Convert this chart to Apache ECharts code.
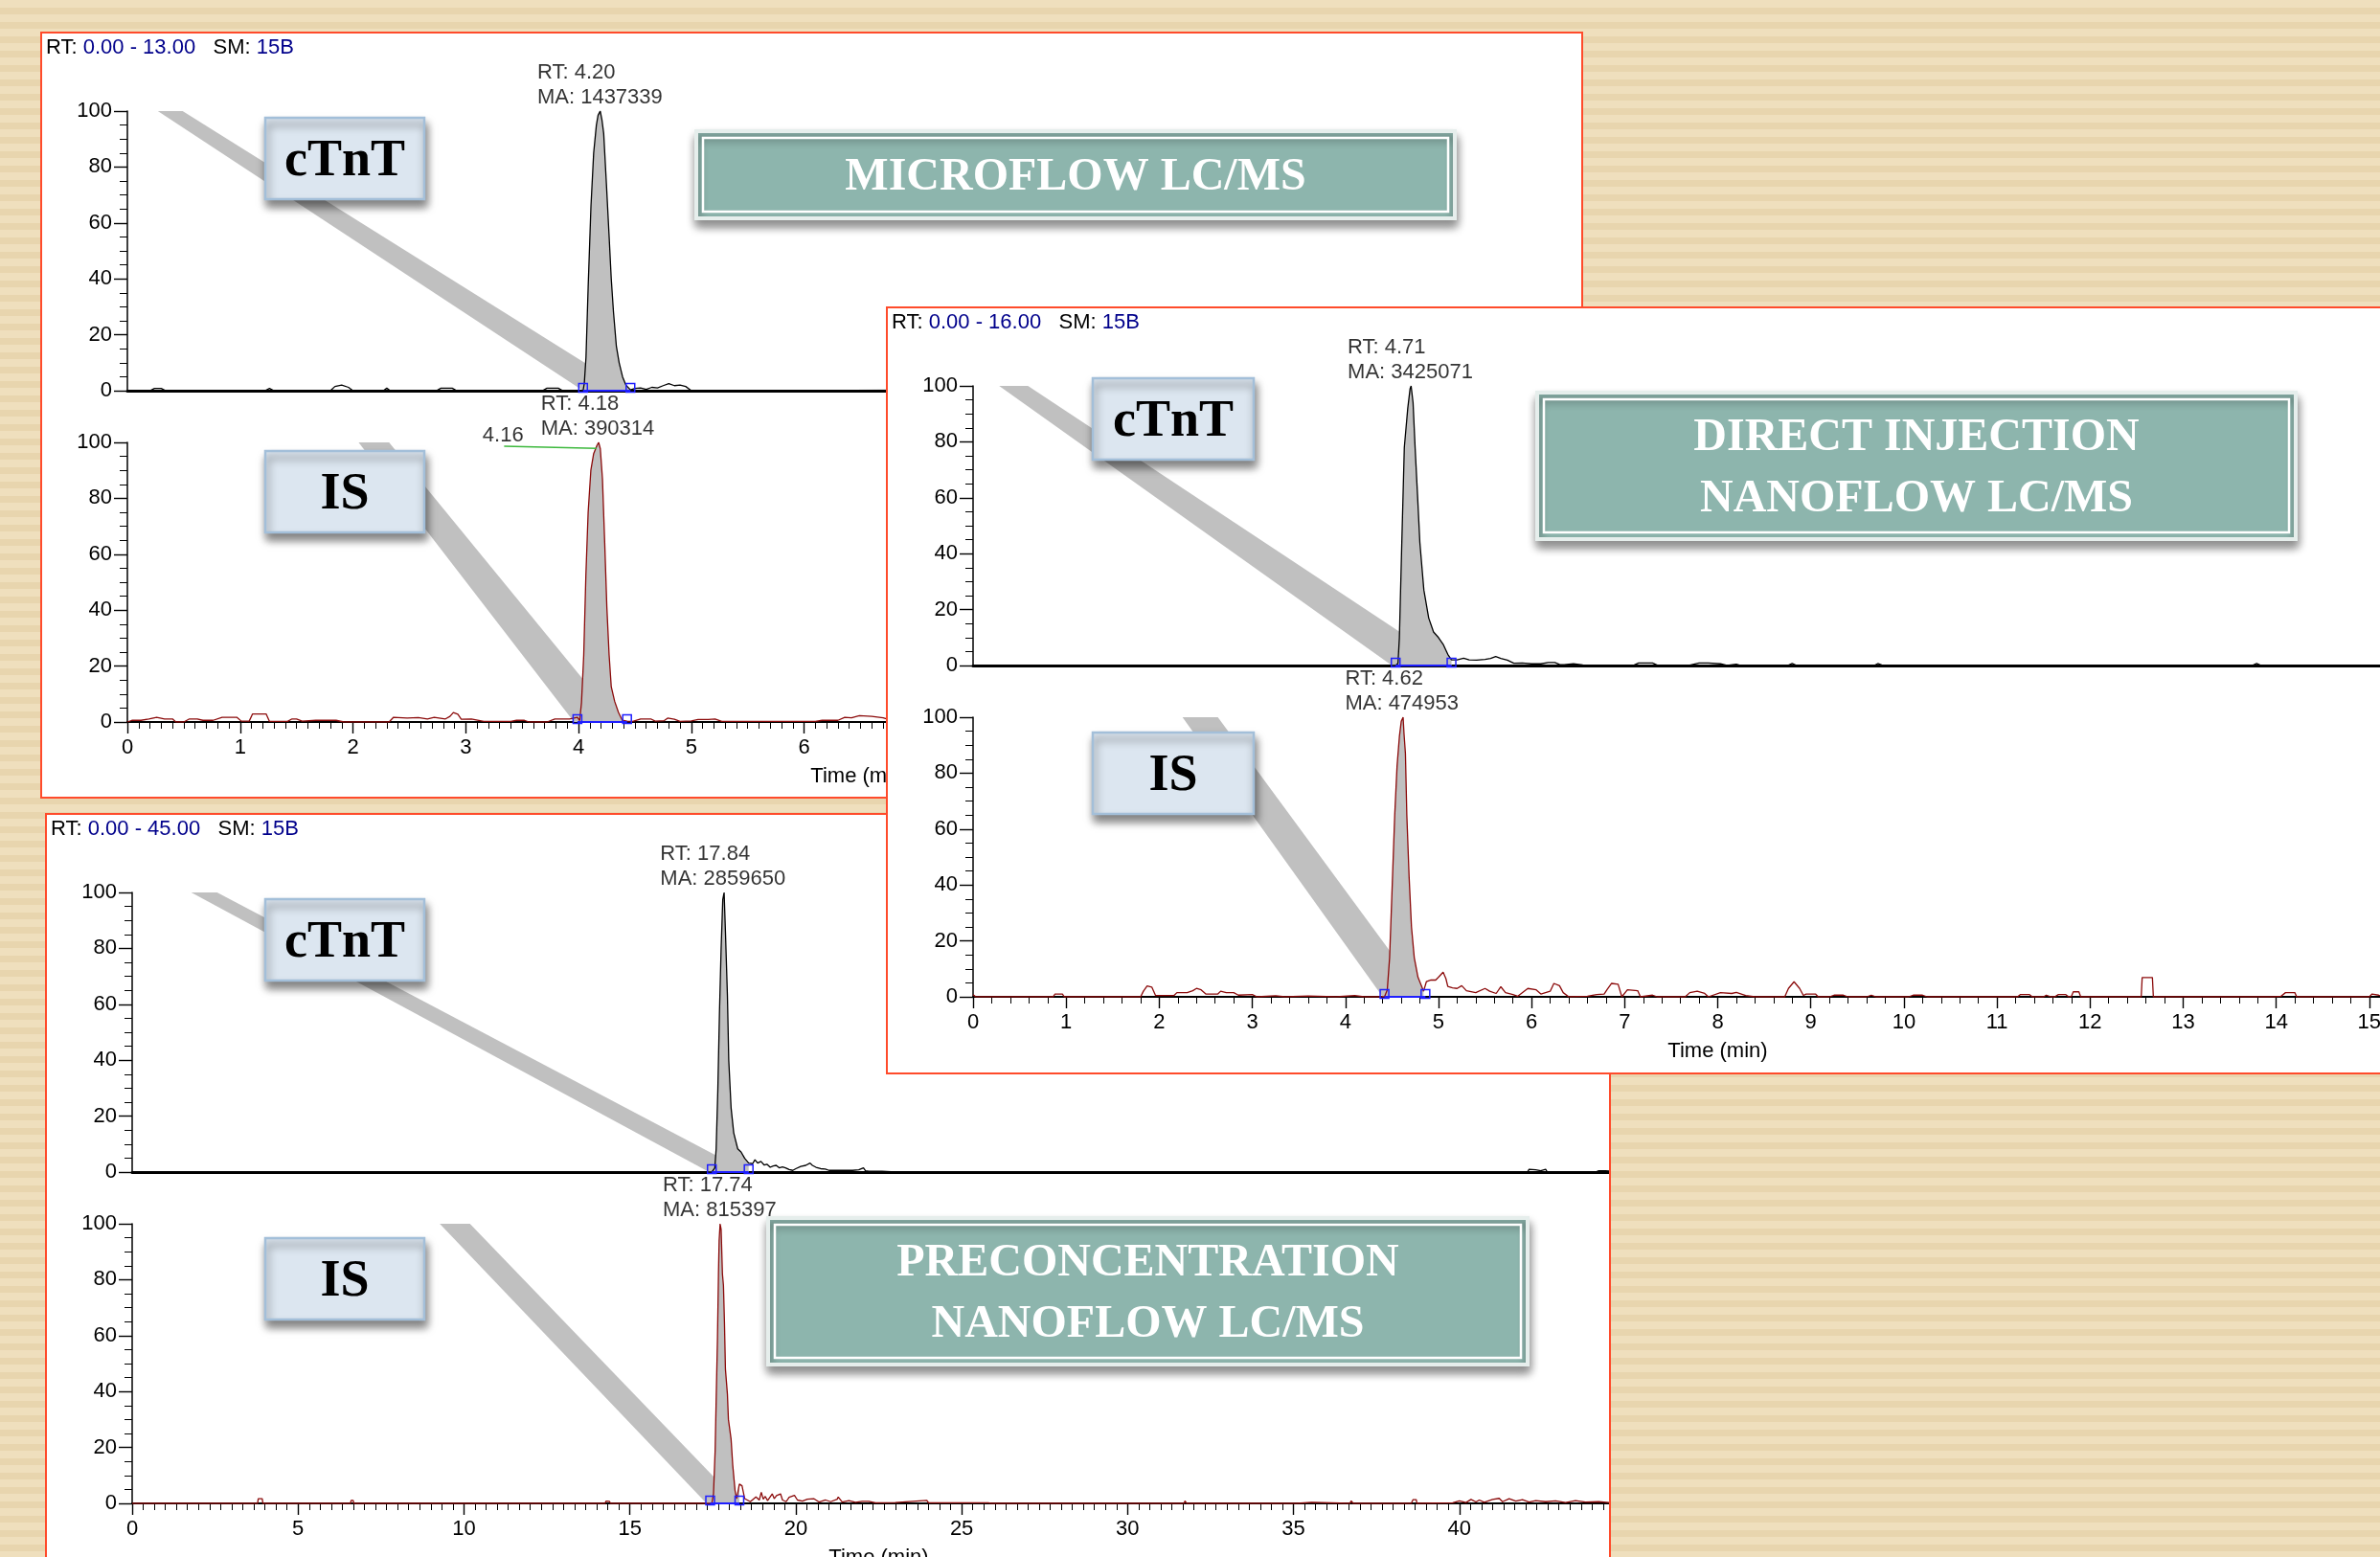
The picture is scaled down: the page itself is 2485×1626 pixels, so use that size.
<!DOCTYPE html>
<html><head><meta charset="utf-8">
<script src="https://cdn.jsdelivr.net/npm/echarts/dist/echarts.min.js"></script>
<style>
html,body{margin:0;padding:0;width:2485px;height:1626px;overflow:hidden;
 background:repeating-linear-gradient(to bottom,#efdfbd 0px,#efdfbd 8px,#e8d5ae 8px,#e8d5ae 15px);}
.panel{position:absolute;box-sizing:border-box;border:2px solid #ff4b2b;background:#fff;overflow:hidden;}
.panel>div{position:absolute;left:0;top:0;}
</style></head><body>
<div class="panel" style="left:42px;top:33px;width:1611px;height:801px;"><div id="cA" style="width:1607px;height:797px;"></div></div>
<div class="panel" style="left:47px;top:849px;width:1635px;height:820px;"><div id="cC" style="width:1631px;height:816px;"></div></div>
<div class="panel" style="left:925px;top:320px;width:1700px;height:802px;"><div id="cB" style="width:1696px;height:798px;"></div></div>
<script>
// ---------------- DATA ----------------
// [time (min), relative abundance (%)]
const microCtnt = [[0,0],[0.2,0],[0.24,0.8],[0.3,0.8],[0.34,0],[1.22,0],[1.26,0.8],[1.3,0],[1.8,0],[1.84,1.5],[1.9,2],[1.96,1.2],[2.0,0],
 [2.27,0],[2.3,0.9],[2.33,0],[2.74,0],[2.78,0.9],[2.88,0.9],[2.92,0],[3.68,0],[3.72,0.9],[3.82,0.9],[3.86,0],
 [4.04,0],[4.051,2.6],[4.066,12],[4.085,37],[4.11,66],[4.134,85],[4.158,95],[4.173,98.5],[4.192,100],[4.207,97],[4.223,92],[4.247,74],[4.27,56],[4.29,40],[4.31,28],[4.335,16],[4.36,10],[4.39,5],[4.42,2],[4.46,0.3],
 [4.5,0.8],[4.55,1],[4.6,0.5],[4.65,1.2],[4.7,1],[4.75,1.8],[4.8,2.5],[4.85,1.8],[4.9,2],[4.95,1.5],[5.0,0],[5.6,0],[8,0.3],[10,0],[13,0]];
const microIs = [[0,0],[0.04,0.6],[0.12,0.6],[0.19,1.1],[0.26,1.7],[0.33,1.1],[0.4,1.1],[0.43,0],[0.5,0],[0.55,1.1],[0.62,1.1],[0.67,0.6],[0.76,0.6],[0.84,1.7],[0.97,1.7],[1.01,0.3],[1.08,0.3],[1.11,2.9],[1.23,2.9],[1.26,0.2],[1.42,0.2],[1.46,1.1],[1.5,1.1],[1.55,0.3],[1.67,0.6],[1.85,0.6],[1.92,0],
 [2.32,0],[2.36,1.7],[2.48,1.4],[2.58,1.6],[2.66,1.1],[2.72,1.7],[2.82,1.1],[2.86,2],[2.89,3.4],[2.93,2.8],[2.96,1.0],[3.05,1.1],[3.16,0.2],[3.4,0.2],[3.45,0.6],[3.52,0.6],[3.56,0],[3.72,0],[3.79,1.1],[3.86,1.1],[3.92,1.1],[3.99,1.7],
 [4.01,0.5],[4.026,6.9],[4.046,24],[4.065,52.6],[4.085,75],[4.109,90],[4.134,96],[4.163,98.9],[4.178,100],[4.193,97.7],[4.212,86.9],[4.232,64],[4.251,41],[4.271,24],[4.29,12.6],[4.32,7.4],[4.354,3.4],[4.388,0.6],[4.43,0.3],
 [4.48,0.2],[4.55,1.1],[4.64,1.1],[4.68,0.3],[4.76,0.5],[4.79,1.4],[4.85,1.0],[4.9,0.2],[5.0,0.4],[5.06,0.9],[5.15,0.9],[5.21,1.1],[5.27,0.2],[6.1,0.2],[6.16,0.6],[6.3,0.6],[6.36,1.7],[6.42,1.5],[6.49,2.3],[6.6,2],[6.7,1.5],[6.8,0.3],[7.2,0.5],[7.8,1],[8.3,0.3],[9,0.8],[10,0.4],[11,0.9],[12,0.3],[13,0.5]];
const directCtnt = [[0,0],[4.54,0],[4.565,0.8],[4.58,9.9],[4.606,44],[4.633,78],[4.67,92],[4.695,99],[4.706,100],[4.727,94],[4.749,78],[4.775,61],[4.80,44],[4.843,27],[4.895,17],[4.947,12],[5.0,10],[5.05,7.6],[5.10,4],[5.14,2],
 [5.16,2.3],[5.2,2],[5.27,2.6],[5.33,2],[5.41,1.9],[5.5,2.2],[5.56,2.5],[5.615,3.2],[5.67,2.5],[5.74,1.9],[5.81,0.8],[5.9,0.9],[6.0,0.6],[6.1,0.6],[6.18,1.1],[6.25,1.1],[6.3,0.4],[6.35,0.3],[6.45,0.6],[6.55,0.2],[6.64,0.1],
 [7.1,0.1],[7.15,0.9],[7.3,0.9],[7.35,0.1],[7.7,0.1],[7.8,0.9],[7.9,0.9],[8.03,0.6],[8.1,0],[8.2,0.5],[8.25,0],[8.75,0],[8.8,0.7],[8.85,0],[9.68,0],[9.72,0.7],[9.78,0],[13.74,0],[13.79,0.7],[13.84,0],[16,0]];
const directIs = [[0,0.8],[0.03,0],[0.36,0],[0.38,0.5],[0.42,0],[0.86,0],[0.88,1],[0.96,1],[0.98,0],[1.8,0],[1.83,2],[1.87,3.9],[1.92,3.5],[1.96,0.5],[2.16,0.5],[2.19,1.5],[2.3,1.5],[2.36,2.2],[2.4,3],[2.45,2.5],[2.5,1],[2.63,1],[2.66,2],[2.72,1.5],[2.8,1.5],[2.85,0.6],[3.0,0.8],[3.05,0],[3.25,0.4],[3.35,0],[3.6,0.3],[3.9,0],[4.1,0.5],[4.2,0],[4.42,0],
 [4.45,2.5],[4.475,14],[4.50,37],[4.53,65],[4.555,82.5],[4.58,93],[4.60,98.5],[4.62,100],[4.63,94],[4.645,87],[4.66,65],[4.685,42.5],[4.71,25],[4.74,14],[4.78,7],[4.82,3.7],[4.84,2],
 [4.87,5.4],[4.92,6],[4.97,6],[5.0,7],[5.05,8.8],[5.08,6.5],[5.1,3.7],[5.15,3.2],[5.2,3],[5.25,4],[5.3,2.2],[5.4,1.5],[5.5,3],[5.55,2],[5.62,1.2],[5.67,3.6],[5.72,1.5],[5.8,0.8],[5.85,0.2],[5.96,3],[6.05,2.5],[6.1,1],[6.2,2],[6.24,4.8],[6.3,4],[6.34,1.5],[6.4,0],[6.6,0.2],[6.7,0.8],[6.78,1],[6.81,2.5],[6.86,4.8],[6.93,4.5],[6.97,0],[7.03,2.5],[7.14,2.2],[7.17,0],[7.3,0.6],[7.35,0],
 [7.65,0],[7.7,1.5],[7.78,2],[7.86,1.2],[7.9,0],[8.03,1.5],[8.15,1.2],[8.2,1.6],[8.3,0.5],[8.4,0],[8.72,0],[8.76,3],[8.82,5.4],[8.88,3],[8.92,0.5],[8.95,1],[9.05,1],[9.08,0],[9.2,0],[9.25,0.6],[9.35,0.6],[9.4,0],[9.6,0],[9.65,0.6],[9.7,0],[10.05,0],[10.1,0.6],[10.2,0.6],[10.25,0],
 [11.08,0],[11.09,0.5],[11.1,0],[11.22,0],[11.25,0.8],[11.35,0.8],[11.38,0],[11.5,0],[11.53,0.6],[11.58,0],[11.62,0],[11.66,0.8],[11.74,0.8],[11.77,0],[11.8,0.2],[11.82,1.8],[11.88,1.8],[11.9,0],[12.55,0],[12.56,6.9],[12.67,6.9],[12.68,0],[13.98,0],[14.0,0.6],[14.05,0.2],[14.1,1.5],[14.2,1.5],[14.22,0],[15.0,0],[15.03,1],[15.1,0.6],[15.15,0],[16,0]];
const preCtnt = [[0,0],[17.47,0],[17.56,1.5],[17.6,8.3],[17.65,29],[17.70,57],[17.75,80],[17.80,97.5],[17.84,100],[17.88,86],[17.94,63],[17.98,40],[18.05,23],[18.13,14],[18.25,8.3],[18.35,7.2],[18.46,4.9],[18.58,3.2],
 [18.62,3.8],[18.7,3],[18.77,4.4],[18.85,3.2],[18.95,3.8],[19.05,2.5],[19.13,2.8],[19.23,1.7],[19.32,2.2],[19.41,2.4],[19.5,1.5],[19.6,1.8],[19.69,1.5],[19.8,0.9],[19.91,0.6],[20.0,1.2],[20.15,2],[20.3,2.4],[20.43,3.2],[20.5,2.4],[20.61,1.7],[20.75,1.2],[20.89,1.1],[21.0,0.6],[21.16,0.6],[21.4,0.6],[21.71,0.6],[21.9,0.8],[22.04,1.5],[22.1,0.5],[22.2,0.3],[22.6,0.3],[23.0,0],
 [36.55,0],[36.6,0.5],[36.65,0],[41.25,0],[41.3,0.4],[41.35,0],[42.05,0],[42.1,1],[42.3,0.8],[42.45,0.5],[42.6,1],[42.65,0],[43.75,0],[43.8,0.5],[43.95,0],[44.1,0],[44.2,0.5],[44.4,0.5],[44.45,0],[45,0]];
const preIs = [[0,0],[3.78,0],[3.8,1.7],[3.92,1.7],[3.94,0],[4.08,0],[4.1,0.5],[4.12,0],[6.27,0],[6.29,0.5],[6.31,0],[6.58,0],[6.6,1.1],[6.66,1.1],[6.68,0],[7.58,0],[7.6,0.4],[7.62,0],[11.38,0],[11.4,0.4],[11.42,0],[13.88,0],[13.9,0.6],[13.95,0],[14.25,0],[14.28,0.8],[14.38,0.7],[14.42,0],[16.48,0],[16.5,0.4],[16.52,0],[17.47,0],
 [17.52,3.4],[17.57,19],[17.6,36.6],[17.64,59],[17.67,82],[17.69,94],[17.72,100],[17.75,98],[17.79,82],[17.82,78],[17.85,65],[17.88,48],[17.94,39],[17.97,30],[18.02,30],[18.05,23],[18.10,13.7],[18.17,4.6],[18.22,1.7],[18.30,6.9],[18.38,6.3],[18.46,1.7],[18.63,0.6],
 [18.8,2.3],[18.9,1.2],[18.96,4],[19.02,1.5],[19.08,2.5],[19.15,1],[19.29,3.4],[19.35,1.7],[19.42,2.8],[19.54,3.4],[19.6,1.2],[19.71,0.6],[19.8,2.2],[19.96,2.9],[20.05,1.2],[20.2,0.8],[20.35,1.5],[20.54,1.7],[20.7,0.5],[20.9,1.2],[21.05,0.6],[21.25,1.5],[21.28,2.3],[21.4,0.5],[21.6,1],[21.8,0.4],[22.0,0.7],[22.2,0.7],[22.4,0.2],[23.0,0.3],[23.95,1.1],[24.0,0.2],
 [25.8,0.2],[25.83,0.5],[25.9,0],[31.7,0],[31.73,0.9],[31.78,0],[33.8,0],[33.85,0.5],[33.9,0],[35.1,0],[35.15,0.4],[35.55,0.4],[35.6,0],[36.7,0],[36.74,0.9],[36.8,0],[38.55,0],[38.6,1.3],[38.7,1.3],[38.72,0],
 [39.8,0.2],[40.0,0.9],[40.2,0.3],[40.35,1.4],[40.5,0.5],[40.6,1.2],[40.75,0.4],[41.0,1.4],[41.2,1.8],[41.3,0.6],[41.5,1.7],[41.7,0.8],[41.9,1.3],[42.1,0.5],[42.3,1.0],[42.6,0.6],[42.9,0.9],[43.2,0.3],[43.5,1],[43.8,0.5],[44.2,0.6],[44.6,0.2],[45,0.3]];

// integration windows [start, end] (min)
const microWindows = [[4.04, 4.46], [3.99, 4.43]];
const directWindows = [[4.54, 5.14], [4.42, 4.86]];
const preWindows = [[17.47, 18.58], [17.42, 18.30]];
// peak annotations [RT, MA]
const microPeaks = [[4.20, 1437339], [4.18, 390314]];
const directPeaks = [[4.71, 3425071], [4.62, 474953]];
const prePeaks = [[17.84, 2859650], [17.74, 815397]];
// callout bands [top-left t, top-right t, bottom-right t, bottom-left t]
const microBands = [[0.27, 0.49, 4.45, 4.04], [2.05, 2.32, 4.35, 3.96]];
const directBands = [[0.28, 0.59, 5.13, 4.50], [2.25, 2.63, 4.84, 4.40]];
const preBands = [[1.78, 2.56, 18.55, 17.39], [9.27, 10.18, 18.30, 17.31]];
// secondary RT marker in microflow IS trace
const microIsMarker = [[3.34, 98.6], [4.16, 97.9]];
// RT ranges in headers
const rtRanges = ['0.00 - 13.00', '0.00 - 16.00', '0.00 - 45.00'];
const smoothing = '15B';

// ---------------- RENDER ----------------
const SANS = '"Liberation Sans", Arial, sans-serif';
const SERIF = '"Liberation Serif", "Times New Roman", serif';

function buildPanel(cfg) {
  const chart = echarts.init(document.getElementById(cfg.dom));
  const grid = [], xAxis = [], yAxis = [], series = [], graphic = [];
  cfg.plots.forEach((p, g) => {
    const top = g === 0 ? 81 : 427;
    const bottomPlot = g === 1;
    grid.push({left: 89, top: top, width: cfg.gridWidth, height: 292, containLabel: false, outerBoundsMode: 'none'});
    xAxis.push({
      type: 'value', gridIndex: g, min: 0, max: cfg.xMax, interval: cfg.step,
      axisLine: {show: true, onZero: false, lineStyle: {color: '#000', width: bottomPlot ? 2 : 3}},
      axisTick: {show: bottomPlot, length: 12, lineStyle: {color: '#000', width: 1.4}},
      minorTick: {show: bottomPlot, splitNumber: cfg.minor, length: 7, lineStyle: {color: '#000', width: 1}},
      axisLabel: {show: bottomPlot, fontSize: 22, fontFamily: SANS, color: '#000', margin: 16},
      splitLine: {show: false}, minorSplitLine: {show: false},
      name: bottomPlot ? 'Time (min)' : '', nameLocation: 'middle', nameGap: 46,
      nameTextStyle: {fontSize: 22, fontFamily: SANS, color: '#000'}
    });
    yAxis.push({
      type: 'value', gridIndex: g, min: 0, max: 100, interval: 20,
      axisLine: {show: true, lineStyle: {color: '#000', width: 1.5}},
      axisTick: {show: true, length: 14, lineStyle: {color: '#000', width: 1.4}},
      minorTick: {show: true, splitNumber: 4, length: 8, lineStyle: {color: '#000', width: 1}},
      axisLabel: {fontSize: 22, fontFamily: SANS, color: '#000', margin: 16},
      splitLine: {show: false}
    });
    // gray callout band
    series.push({
      type: 'custom', xAxisIndex: g, yAxisIndex: g, z: 1, silent: true,
      data: [p.band],
      renderItem: function (params, api) {
        const pts = [api.coord([api.value(0), 100]), api.coord([api.value(1), 100]),
                     api.coord([api.value(2), 0]), api.coord([api.value(3), 0])];
        return {type: 'polygon', shape: {points: pts}, style: {fill: '#c0c0c0'}};
      }
    });
    // gray fill of integrated peak
    series.push({
      type: 'line', xAxisIndex: g, yAxisIndex: g, z: 2, silent: true, showSymbol: false,
      data: p.trace.filter(d => d[0] >= p.win[0] && d[0] <= p.win[1]),
      lineStyle: {width: 0}, areaStyle: {color: '#c0c0c0', opacity: 1}
    });
    // chromatogram trace
    series.push({
      type: 'line', xAxisIndex: g, yAxisIndex: g, z: 3, silent: true, showSymbol: false,
      data: p.trace, lineStyle: {color: p.color, width: 1.3}
    });
    // integration baseline
    series.push({
      type: 'line', xAxisIndex: g, yAxisIndex: g, z: 4, silent: true,
      data: [[p.win[0], 0], [p.win[1], 0]], symbol: 'rect', symbolSize: [9, 9], symbolOffset: [0, -3], showSymbol: true,
      itemStyle: {color: 'rgba(0,0,0,0)', borderColor: '#1f1fff', borderWidth: 1.5},
      lineStyle: {color: '#1f1fff', width: 2}
    });
    // peak annotation
    const ma = String(p.peak[1]);
    series.push({
      type: 'scatter', xAxisIndex: g, yAxisIndex: g, z: 5, silent: true,
      data: [[p.peak[0], 100]], symbolSize: 1, itemStyle: {color: 'rgba(0,0,0,0)'},
      label: {show: true, formatter: 'RT: ' + p.peak[0].toFixed(2) + '\nMA: ' + ma,
        position: [-(ma.length * 12.2 + 47) / 2, -53], align: 'left', verticalAlign: 'top',
        fontSize: 22, lineHeight: 26, fontFamily: SANS, color: '#000'}
    });
    if (p.marker) {
      series.push({
        type: 'line', xAxisIndex: g, yAxisIndex: g, z: 5, silent: true, showSymbol: false,
        data: p.marker, lineStyle: {color: '#3cb83c', width: 1.5}
      });
      series.push({
        type: 'scatter', xAxisIndex: g, yAxisIndex: g, z: 5, silent: true,
        data: [p.marker[0]], symbolSize: 1, itemStyle: {color: 'rgba(0,0,0,0)'},
        label: {show: true, formatter: p.peak2, position: [-22, -22], align: 'left', verticalAlign: 'top',
          fontSize: 22, fontFamily: SANS, color: '#000'}
      });
    }
    // label box (cTnT / IS)
    graphic.push({
      type: 'group', x: p.box[0], y: p.box[1], z: 100,
      children: [
        {type: 'rect', z: 100, shape: {x: 0, y: 0, width: p.box[2], height: 85},
         style: {fill: '#dce6f0', stroke: '#a3bfd9', lineWidth: 2.5, shadowBlur: 9, shadowOffsetX: 2, shadowOffsetY: 7, shadowColor: 'rgba(0,0,0,0.5)'}},
        {type: 'text', z: 101, x: p.box[2] / 2, y: 46,
         style: {text: p.name, fontSize: 54, fontWeight: 'bold', fontFamily: SERIF, fill: '#000', align: 'center', verticalAlign: 'middle'}}
      ]
    });
  });
  // header
  graphic.push({
    type: 'text', x: 4, y: 15, z: 100,
    style: {text: '{k|RT: }{v|' + cfg.range + '}{k|   SM: }{v|' + smoothing + '}', verticalAlign: 'middle',
      fontSize: 22, fontFamily: SANS,
      rich: {k: {fill: '#000', fontSize: 22, fontFamily: SANS}, v: {fill: '#00008b', fontSize: 22, fontFamily: SANS}}}
  });
  // teal method box
  const t = cfg.teal;
  const lines = t.lines;
  graphic.push({
    type: 'group', x: t.x, y: t.y, z: 100,
    children: [
      {type: 'rect', z: 100, shape: {x: 0, y: 0, width: t.w, height: t.h},
       style: {fill: '#8db5ad', stroke: '#e6eeec', lineWidth: 4, shadowBlur: 10, shadowOffsetX: 1, shadowOffsetY: 7, shadowColor: 'rgba(0,0,0,0.45)'}},
      {type: 'rect', z: 101, shape: {x: 7, y: 7, width: t.w - 14, height: t.h - 14},
       style: {fill: 'none', stroke: '#ffffff', lineWidth: 2.5}},
      {type: 'text', z: 102, x: t.w / 2, y: t.h / 2 + 3,
       style: {text: lines.join('\n'), fontSize: 48, lineHeight: 64, fontWeight: 'bold', fontFamily: SERIF, fill: '#ffffff', align: 'center', verticalAlign: 'middle'}}
    ]
  });
  chart.setOption({animation: false, grid, xAxis, yAxis, series, graphic});
}

buildPanel({
  dom: 'cA', xMax: 13, step: 1, minor: 10, gridWidth: 1531, range: rtRanges[0],
  plots: [
    {trace: microCtnt, color: '#000000', win: microWindows[0], band: microBands[0], peak: microPeaks[0], name: 'cTnT', box: [233, 88, 166]},
    {trace: microIs, color: '#8b0a0a', win: microWindows[1], band: microBands[1], peak: microPeaks[1], name: 'IS', box: [233, 436, 166],
     marker: microIsMarker, peak2: microIsMarker[1][0].toFixed(2)}
  ],
  teal: {x: 683, y: 102, w: 792, h: 91, lines: ['MICROFLOW LC/MS']}
});
buildPanel({
  dom: 'cC', xMax: 45, step: 5, minor: 15, gridWidth: 1559, range: rtRanges[2],
  plots: [
    {trace: preCtnt, color: '#000000', win: preWindows[0], band: preBands[0], peak: prePeaks[0], name: 'cTnT', box: [228, 88, 166]},
    {trace: preIs, color: '#8b0a0a', win: preWindows[1], band: preBands[1], peak: prePeaks[1], name: 'IS', box: [228, 442, 166]}
  ],
  teal: {x: 753, y: 421, w: 793, h: 153, lines: ['PRECONCENTRATION', 'NANOFLOW LC/MS']}
});
buildPanel({
  dom: 'cB', xMax: 16, step: 1, minor: 5, gridWidth: 1555, range: rtRanges[1],
  plots: [
    {trace: directCtnt, color: '#000000', win: directWindows[0], band: directBands[0], peak: directPeaks[0], name: 'cTnT', box: [214, 73, 168]},
    {trace: directIs, color: '#8b0a0a', win: directWindows[1], band: directBands[1], peak: directPeaks[1], name: 'IS', box: [214, 443, 168]}
  ],
  teal: {x: 678, y: 88, w: 792, h: 153, lines: ['DIRECT INJECTION', 'NANOFLOW LC/MS']}
});
</script>
</body></html>
